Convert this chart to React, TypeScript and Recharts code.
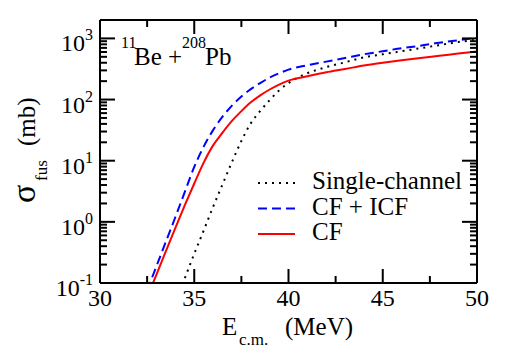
import React from 'react';
import { LineChart, Line, XAxis, YAxis, Legend, Label } from 'recharts';

const FONT = "'Liberation Serif', 'Times New Roman', 'DejaVu Serif', serif";
const TXT = { fontFamily: FONT };

// E_c.m. (MeV)
const energies = [32.5, 33, 33.5, 34, 34.5, 35, 35.5, 36, 36.5, 37, 37.5, 38, 38.5, 39, 39.5, 40, 41, 42, 43, 44, 45, 46, 47, 48, 49, 50];
// sigma_fus (mb)
const singleChannel = [0.003, 0.0076, 0.019, 0.048, 0.12, 0.3, 0.72, 1.76, 4.1, 9.5, 21, 41, 65, 98, 141, 186, 269, 339, 407, 490, 550, 617, 692, 776, 871, 955];
const cfPlusIcf = [0.076, 0.19, 0.48, 1.2, 3.1, 7.9, 17, 31.6, 52.5, 79.4, 112, 148, 186, 229, 269, 309, 363, 417, 479, 550, 617, 692, 759, 851, 933, 1023];
const completeFusion = [0.058, 0.139, 0.334, 0.8, 1.87, 4.24, 9.3, 17.8, 28.8, 44.7, 64.6, 90, 117, 146, 176, 204, 240, 279, 316, 360, 400, 440, 480, 520, 565, 612];

const xTicks = [30, 32.5, 35, 37.5, 40, 42.5, 45, 47.5, 50];
const yTicks = [
  0.1, 0.2, 0.3, 0.4, 0.5, 0.6, 0.7, 0.8, 0.9,
  1, 2, 3, 4, 5, 6, 7, 8, 9,
  10, 20, 30, 40, 50, 60, 70, 80, 90,
  100, 200, 300, 400, 500, 600, 700, 800, 900,
  1000,
];

const data = energies.map((e, i) => ({
  e,
  single: singleChannel[i],
  total: cfPlusIcf[i],
  cf: completeFusion[i],
}));

const SERIES = [
  { key: 'single', name: 'Single-channel', color: '#000000', dash: '2 5' },
  { key: 'total', name: 'CF + ICF', color: '#0000ff', dash: '9 5' },
  { key: 'cf', name: 'CF', color: '#ff0000', dash: undefined },
];

const isDecade = (v: number) => Math.abs(Math.log10(v) - Math.round(Math.log10(v))) < 1e-9;

const BottomTick = ({ x, y, payload }: any) => {
  const major = payload.value % 5 === 0;
  return (
    <g>
      <line x1={x} x2={x} y1={y} y2={y - (major ? 14 : 7)} stroke="#000" strokeWidth={2} />
      {major && (
        <text x={x} y={y + 23} textAnchor="middle" fontSize={24} style={TXT} fill="#000">
          {payload.value}
        </text>
      )}
    </g>
  );
};

const TopTick = ({ x, y, payload }: any) => {
  const major = payload.value % 5 === 0;
  return <line x1={x} x2={x} y1={y} y2={y + (major ? 14 : 7)} stroke="#000" strokeWidth={2} />;
};

const LeftTick = ({ x, y, payload }: any) => {
  const major = isDecade(payload.value);
  const exp = Math.round(Math.log10(payload.value));
  return (
    <g>
      <line x1={x} x2={x + (major ? 15 : 7)} y1={y} y2={y} stroke="#000" strokeWidth={2} />
      {major && (
        <text x={x - 7} y={y + 13} textAnchor="end" fontSize={24} style={TXT} fill="#000">
          <tspan>10</tspan>
          <tspan dy={-11} fontSize={16}>{exp}</tspan>
        </text>
      )}
    </g>
  );
};

const RightTick = ({ x, y, payload }: any) => {
  const major = isDecade(payload.value);
  return <line x1={x} x2={x - (major ? 15 : 7)} y1={y} y2={y} stroke="#000" strokeWidth={2} />;
};

const XTitle = () => (
  <g fill="#000" style={TXT}>
    <text x={222} y={335} fontSize={25} style={TXT}>E</text>
    <text x={239} y={345} fontSize={17} style={TXT}>c.m.</text>
    <text x={285} y={335} fontSize={25} style={TXT}>(MeV)</text>
  </g>
);

const YTitle = () => (
  <g fill="#000" style={TXT}>
    <text transform="translate(35,203) rotate(-90)" fontSize={34} style={TXT}>σ</text>
    <text transform="translate(47,181) rotate(-90)" fontSize={17} style={TXT}>fus</text>
    <text transform="translate(35,146) rotate(-90)" fontSize={25} style={TXT}>(mb)</text>
  </g>
);

// drawn in the series order, not the legend's sorted payload order
const LegendBox = () => (
  <svg width={220} height={85} style={{ display: 'block', overflow: 'visible' }}>
    {SERIES.map((s, i) => {
      const ly = 13 + i * 25.5;
      return (
        <g key={s.key}>
          <line x1={3} x2={40} y1={ly} y2={ly} stroke={s.color} strokeWidth={2} strokeDasharray={s.dash} />
          <text x={57} y={ly + 6} fontSize={25} style={TXT} fill="#000">
            {s.name}
          </text>
        </g>
      );
    })}
  </svg>
);

export default function App() {
  return (
    <div style={{ position: 'absolute', left: 0, top: 0, width: 505, height: 353, background: '#fff', fontFamily: FONT }}>
      <LineChart width={505} height={353} data={data} margin={{ top: 19, right: 27, bottom: 69, left: 99 }}>
        <XAxis
          xAxisId="bottom"
          dataKey="e"
          type="number"
          domain={[30, 50]}
          ticks={xTicks}
          interval={0}
          height={1}
          tickSize={0}
          tickMargin={0}
          tickLine={false}
          tick={<BottomTick />}
          axisLine={{ stroke: '#000', strokeWidth: 2 }}
        >
          <Label content={<XTitle />} />
        </XAxis>
        <XAxis
          xAxisId="top"
          orientation="top"
          dataKey="e"
          type="number"
          domain={[30, 50]}
          ticks={xTicks}
          interval={0}
          height={1}
          tickSize={0}
          tickMargin={0}
          tickLine={false}
          tick={<TopTick />}
          axisLine={{ stroke: '#000', strokeWidth: 2 }}
        />
        <YAxis
          yAxisId="left"
          type="number"
          scale="log"
          domain={[0.1, 2000]}
          allowDataOverflow
          ticks={yTicks}
          interval={0}
          width={1}
          tickSize={0}
          tickMargin={0}
          tickLine={false}
          tick={<LeftTick />}
          axisLine={{ stroke: '#000', strokeWidth: 2 }}
        >
          <Label content={<YTitle />} />
        </YAxis>
        <YAxis
          yAxisId="right"
          orientation="right"
          type="number"
          scale="log"
          domain={[0.1, 2000]}
          allowDataOverflow
          ticks={yTicks}
          interval={0}
          width={1}
          tickSize={0}
          tickMargin={0}
          tickLine={false}
          tick={<RightTick />}
          axisLine={{ stroke: '#000', strokeWidth: 2 }}
        />
        <Legend
          layout="vertical"
          align="center"
          verticalAlign="middle"
          content={<LegendBox />}
          wrapperStyle={{ left: 255, top: 170, width: 220, height: 85 }}
        />
        {SERIES.map((s) => (
          <Line
            key={s.key}
            xAxisId="bottom"
            yAxisId="left"
            type="monotone"
            dataKey={s.key}
            name={s.name}
            stroke={s.color}
            strokeWidth={2}
            strokeDasharray={s.dash}
            dot={false}
            activeDot={false}
            isAnimationActive={false}
          />
        ))}
      </LineChart>
      <svg
        width={505}
        height={353}
        style={{ position: 'absolute', left: 0, top: 0, pointerEvents: 'none' }}
      >
        <g fill="#000">
          <text x={121} y={48} fontSize={16} style={TXT}>11</text>
          <text x={134} y={65} fontSize={25} style={TXT}>Be +</text>
          <text x={182} y={48} fontSize={16} style={TXT}>208</text>
          <text x={205} y={65} fontSize={25} style={TXT}>Pb</text>
        </g>
      </svg>
    </div>
  );
}
